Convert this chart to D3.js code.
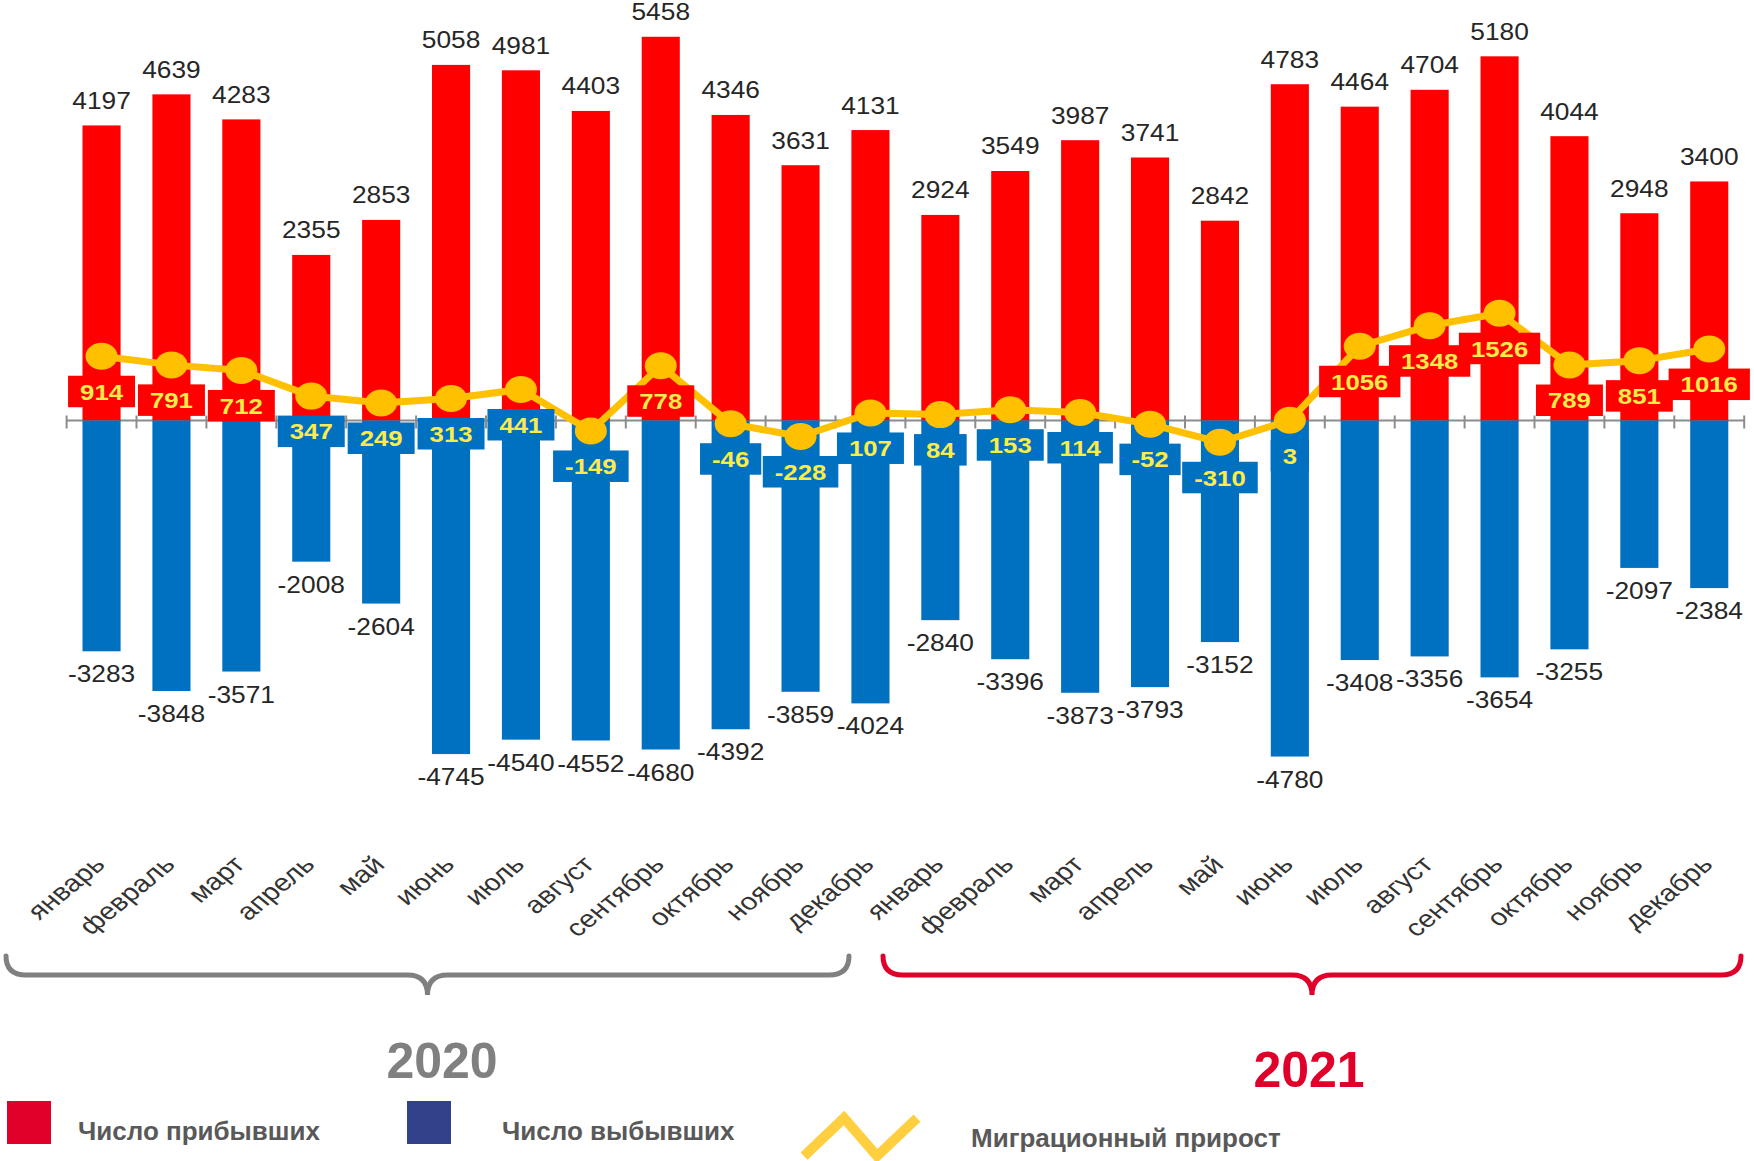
<html>
<head>
<meta charset="utf-8">
<title>Миграция 2020-2021</title>
<script src="https://d3js.org/d3.v7.min.js"></script>
<style>
  body { margin: 0; background: #fff; }
  text { font-family: "Liberation Sans", Arial, sans-serif; }
</style>
</head>
<body>

<svg id="grafico" width="1754" height="1161"></svg>

<script>
let width = 1754;
let height = 1161;

// данные
let months = ["январь", "февраль", "март", "апрель", "май", "июнь", "июль", "август", "сентябрь", "октябрь", "ноябрь", "декабрь"];
let years = ["2020", "2021"];
let arrivals2020 = [4197, 4639, 4283, 2355, 2853, 5058, 4981, 4403, 5458, 4346, 3631, 4131];
let arrivals2021 = [2924, 3549, 3987, 3741, 2842, 4783, 4464, 4704, 5180, 4044, 2948, 3400];
let departures2020 = [-3283, -3848, -3571, -2008, -2604, -4745, -4540, -4552, -4680, -4392, -3859, -4024];
let departures2021 = [-2840, -3396, -3873, -3793, -3152, -4780, -3408, -3356, -3654, -3255, -2097, -2384];
let migration2020 = [914, 791, 712, 347, 249, 313, 441, -149, 778, -46, -228, 107];
let migration2021 = [84, 153, 114, -52, -310, 3, 1056, 1348, 1526, 789, 851, 1016];
let legendLabels = ["Число прибывших", "Число выбывших", "Миграционный прирост"];

let categories = [];
years.forEach(yr => months.forEach(m => categories.push(m + " " + yr)));
let arrivals = arrivals2020.concat(arrivals2021);
let departures = departures2020.concat(departures2021);
let migration = migration2020.concat(migration2021);

let RED = "#ff0000", BLUE = "#0070c0", GOLD = "#ffc000", LABEL = "#fcec4a";

let svg = d3.select("#grafico");

let x = d3.scaleBand()
  .domain(categories)
  .range([66.6, 1744.2])
  .paddingInner(0.455)
  .paddingOuter(0.2275);
let y = d3.scaleLinear().domain([-5000, 5600]).range([772, 26.8]);
let cx = c => x(c) + x.bandwidth() / 2;

// ось
let axisG = svg.append("g");
axisG.append("line")
  .attr("x1", x.range()[0]).attr("x2", x.range()[1])
  .attr("y1", y(0)).attr("y2", y(0))
  .attr("stroke", "#8c8c8c").attr("stroke-width", 2);
axisG.selectAll("line.tick")
  .data(d3.range(categories.length + 1))
  .enter().append("line")
  .attr("class", "tick")
  .attr("x1", i => x.range()[0] + i * x.step())
  .attr("x2", i => x.range()[0] + i * x.step())
  .attr("y1", y(0) - 5).attr("y2", y(0) + 8)
  .attr("stroke", "#8c8c8c").attr("stroke-width", 2);

// столбцы прибывших
svg.append("g").selectAll("rect")
  .data(categories)
  .enter().append("rect")
  .attr("x", c => x(c))
  .attr("y", (c, i) => y(arrivals[i]))
  .attr("width", x.bandwidth())
  .attr("height", (c, i) => y(0) - y(arrivals[i]))
  .attr("fill", RED);

// столбцы выбывших
svg.append("g").selectAll("rect")
  .data(categories)
  .enter().append("rect")
  .attr("x", c => x(c))
  .attr("y", y(0))
  .attr("width", x.bandwidth())
  .attr("height", (c, i) => y(departures[i]) - y(0))
  .attr("fill", BLUE);

// подписи значений
svg.append("g").selectAll("text")
  .data(categories)
  .enter().append("text")
  .attr("transform", (c, i) => `translate(${cx(c)},${y(arrivals[i]) - 16.5}) scale(1.12,1)`)
  .attr("text-anchor", "middle")
  .attr("font-size", 23.5)
  .attr("fill", "#262626")
  .text((c, i) => arrivals[i]);

svg.append("g").selectAll("text")
  .data(categories)
  .enter().append("text")
  .attr("transform", (c, i) => `translate(${cx(c)},${y(departures[i]) + 31}) scale(1.12,1)`)
  .attr("text-anchor", "middle")
  .attr("font-size", 23.5)
  .attr("fill", "#262626")
  .text((c, i) => departures[i]);

// линия миграционного прироста
let line = d3.line()
  .x((d, i) => cx(categories[i]))
  .y(d => y(d));
svg.append("path")
  .datum(migration)
  .attr("d", line)
  .attr("fill", "none")
  .attr("stroke", GOLD)
  .attr("stroke-width", 7)
  .attr("stroke-linejoin", "round");
svg.append("g").selectAll("ellipse")
  .data(migration)
  .enter().append("ellipse")
  .attr("cx", (d, i) => cx(categories[i]))
  .attr("cy", d => y(d))
  .attr("rx", 16).attr("ry", 13.5)
  .attr("fill", GOLD);

// подписи прироста в плашках
let labG = svg.append("g").selectAll("g")
  .data(migration)
  .enter().append("g");
labG.append("rect");
labG.append("text")
  .attr("transform", (d, i) => `translate(${cx(categories[i])},${y(d) + 35 + 8.3}) scale(1.12,1)`)
  .attr("text-anchor", "middle")
  .attr("font-size", 23)
  .attr("font-weight", "bold")
  .attr("fill", LABEL)
  .text(d => d);
labG.each(function(d, i) {
  let g = d3.select(this);
  let w = g.select("text").node().getComputedTextLength() * 1.12 + 24;
  g.select("rect")
    .attr("x", cx(categories[i]) - w / 2)
    .attr("y", y(d) + 19.5)
    .attr("width", w)
    .attr("height", 31.5)
    .attr("fill", y(d) + 35 < y(0) ? RED : BLUE);
});

// месяцы
svg.append("g").selectAll("text")
  .data(categories)
  .enter().append("text")
  .attr("transform", c => `translate(${cx(c) + 5},866) scale(1.22,1) rotate(-45)`)
  .attr("text-anchor", "end")
  .attr("font-size", 24)
  .attr("fill", "#333")
  .text(c => c.split(" ")[0]);

// фигурные скобки по годам
function brace(x1, x2) {
  let xm = (x1 + x2) / 2, top = 956, mid = 975, tip = 995, r = 20;
  return `M${x1},${top} Q${x1},${mid} ${x1 + r},${mid} L${xm - r},${mid} Q${xm},${mid} ${xm},${tip}` +
         ` Q${xm},${mid} ${xm + r},${mid} L${x2 - r},${mid} Q${x2},${mid} ${x2},${top}`;
}
svg.append("path").attr("d", brace(6, 849))
  .attr("fill", "none").attr("stroke", "#808080").attr("stroke-width", 5).attr("stroke-linecap", "round");
svg.append("path").attr("d", brace(883, 1741))
  .attr("fill", "none").attr("stroke", "#e0002a").attr("stroke-width", 5).attr("stroke-linecap", "round");

svg.append("text").attr("x", 442).attr("y", 1078)
  .attr("text-anchor", "middle").attr("font-size", 50).attr("font-weight", "bold")
  .attr("fill", "#808080").text(years[0]);
svg.append("text").attr("x", 1309).attr("y", 1087)
  .attr("text-anchor", "middle").attr("font-size", 50).attr("font-weight", "bold")
  .attr("fill", "#e0002a").text(years[1]);

// легенда
svg.append("rect").attr("x", 7).attr("y", 1101).attr("width", 44).attr("height", 43).attr("fill", "#e0002a");
svg.append("text").attr("x", 78).attr("y", 1140).attr("font-size", 26).attr("font-weight", "bold")
  .attr("fill", "#595959").text(legendLabels[0]);
svg.append("rect").attr("x", 407).attr("y", 1101).attr("width", 44).attr("height", 43).attr("fill", "#31428a");
svg.append("text").attr("x", 502).attr("y", 1140).attr("font-size", 26).attr("font-weight", "bold")
  .attr("fill", "#595959").text(legendLabels[1]);
svg.append("polyline").attr("points", "804,1156 844,1118 877,1156 917,1118")
  .attr("fill", "none").attr("stroke", "#ffcf40").attr("stroke-width", 10);
svg.append("text").attr("x", 971).attr("y", 1147).attr("font-size", 26).attr("font-weight", "bold")
  .attr("fill", "#595959").text(legendLabels[2]);
</script>

</body>
</html>
